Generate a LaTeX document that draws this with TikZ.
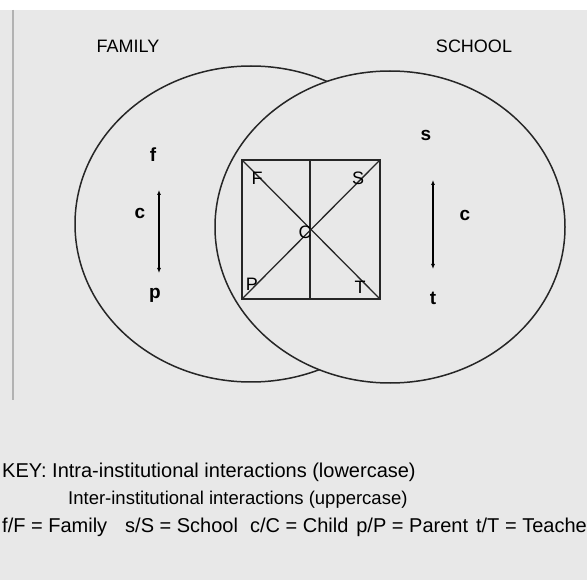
\documentclass[tikz,border=0pt]{standalone}
\usepackage{fontspec}
\setmainfont{Liberation Sans}
\usetikzlibrary{arrows.meta}
\begin{document}
\begin{tikzpicture}[x=1pt,y=-1pt,
  outline/.style={line width=1.5pt, draw=black!85},
  bgfill/.style={fill=black!9},
  lbl/.style={font=\fontsize{19}{19}\selectfont\bfseries, inner sep=0pt},
  caplbl/.style={font=\fontsize{18}{18}\selectfont, inner sep=0pt},
  titletxt/.style={font=\fontsize{18}{18}\selectfont, inner sep=0pt},
  keytxt/.style={inner sep=0pt, anchor=west},
  link/.style={line width=1.3pt, draw=black!85},
  dbl/.style={line width=1.3pt, {Latex[length=5pt,width=4pt]}-{Latex[length=5pt,width=4pt]}}
]
\clip (0,0) rectangle (587,580);
\fill[bgfill] (0,0) rectangle (587,580);
\fill[white] (0,0) rectangle (587,10);
\draw[gray!60, line width=2pt] (13,10) -- (13,400);

% ellipses
\draw[outline] (251,224) ellipse [x radius=176, y radius=158];
\fill[bgfill] (390,227) ellipse [x radius=175, y radius=156];
\draw[outline] (390,227) ellipse [x radius=175, y radius=156];

% titles
\node[titletxt] (family) at (128,46) {FAMILY};
\node[titletxt] (school) at (474,46) {SCHOOL};

% square
\coordinate (tl) at (242,160);
\coordinate (tr) at (380,160);
\coordinate (bl) at (242,299);
\coordinate (br) at (380,299);
\coordinate (mt) at (310,160);
\coordinate (mb) at (310,299);
\draw[link] (tl) rectangle (br);
\draw[link] (mt) -- (mb);
\draw[link] (tl) -- (br);
\draw[link] (bl) -- (tr);

\node[caplbl] (F) at (257,178) {F};
\node[caplbl] (S) at (358,178) {S};
\node[caplbl] (P) at (252,284) {P};
\node[caplbl] (T) at (360,287) {T};
\node[caplbl] (C) at (305,232) {C};

% family side
\node[lbl] (f) at (153,155) {f};
\node[lbl] (cf) at (140,213) {c};
\node[lbl] (p) at (155,295) {p};
\coordinate (fa) at (159,190);
\coordinate (fb) at (159,273);
\draw[dbl] (fa) -- (fb);

% school side
\node[lbl] (s) at (426,135) {s};
\node[lbl] (cs) at (465,215) {c};
\node[lbl] (t) at (433,298) {t};
\coordinate (sa) at (433,180);
\coordinate (sb) at (433,269);
\draw[dbl] (sa) -- (sb);

% key
\node[keytxt, font=\fontsize{20}{20}\selectfont] (k1) at (2,472) {KEY: Intra-institutional interactions (lowercase)};
\node[keytxt, font=\fontsize{18.5}{18.5}\selectfont] (k2) at (68,500) {Inter-institutional interactions (uppercase)};
\node[keytxt, font=\fontsize{20}{20}\selectfont] (k3) at (2,527) {f/F = Family\hspace{0.9em}s/S = School\hspace{0.6em}c/C = Child\hspace{0.4em}p/P = Parent\hspace{0.4em}t/T = Teacher};
\end{tikzpicture}
\end{document}
